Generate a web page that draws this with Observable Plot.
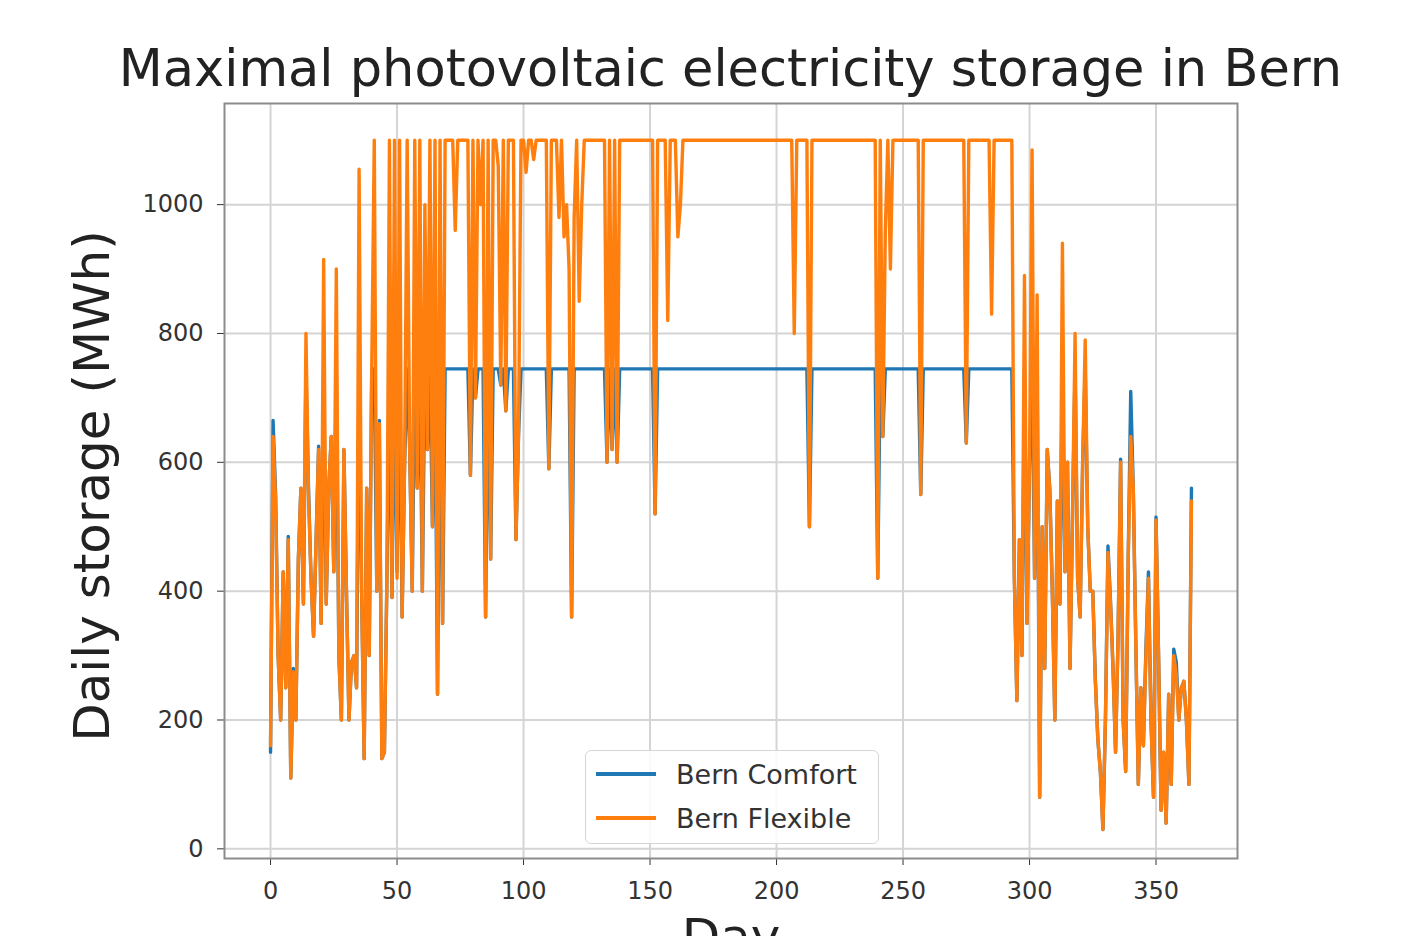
<!DOCTYPE html>
<html><head><meta charset="utf-8">
<script src="https://cdn.jsdelivr.net/npm/d3@7"></script>
<script src="https://cdn.jsdelivr.net/npm/@observablehq/plot@0.6"></script>
<style>
body{margin:0;background:#fff;font-family:"DejaVu Sans",sans-serif}
#wrap{position:relative;width:1406px;height:936px;overflow:hidden;background:#fff}
#title{position:absolute;left:0;width:1461px;top:44px;text-align:center;font-size:51px;line-height:50px;color:#222;white-space:nowrap}
#legend{position:absolute;left:585px;top:750px;width:294px;height:94px;border:1.5px solid #d6d6d6;border-radius:6px;background:rgba(255,255,255,0.85);box-sizing:border-box}
.row{position:absolute;left:0;height:34px;display:flex;align-items:center}
.sw{width:60px;height:3.5px;margin-left:10px;margin-right:20px}
.lab{font-size:27px;color:#333;white-space:nowrap}
#chart{position:absolute;left:0;top:0}
</style>
</head><body>
<div id="wrap">
  <div id="chart"></div>
  <div id="title">Maximal photovoltaic electricity storage in Bern</div>
  <div id="legend">
    <div class="row" style="top:6px"><div class="sw" style="background:#1f77b4"></div><div class="lab">Bern Comfort</div></div>
    <div class="row" style="top:50px"><div class="sw" style="background:#ff7f0e"></div><div class="lab">Bern Flexible</div></div>
  </div>
</div>
<script>
const xTicks = [0, 50, 100, 150, 200, 250, 300, 350];
const yTicks = [0, 200, 400, 600, 800, 1000];
const seriesNames = ["Bern Comfort", "Bern Flexible"];

const flexible = [
160,640,540,300,200,430,250,480,110,275,
200,450,560,380,800,550,420,330,480,620,
350,915,380,560,640,430,900,300,200,620,
400,200,290,300,250,1055,400,140,560,300,
745,1100,400,660,140,150,420,1100,390,1100,
420,1100,360,600,1100,620,400,1100,560,1100,
400,1000,620,1100,500,1100,240,1100,350,1100,
1100,1100,1100,960,1100,1100,1100,1100,1100,580,
1100,700,1100,1000,1100,360,1100,450,1100,1100,
1060,720,1100,680,1100,1100,1100,480,640,1100,
1100,1050,1100,1100,1070,1100,1100,1100,1100,1100,
590,1100,1100,1100,980,1100,950,1000,900,360,
980,1100,850,1000,1100,1100,1100,1100,1100,1100,
1100,1100,1100,600,1100,620,1100,600,1100,1100,
1100,1100,1100,1100,1100,1100,1100,1100,1100,1100,
1100,1100,520,1100,1100,1100,1100,820,1100,1100,
1100,950,1000,1100,1100,1100,1100,1100,1100,1100,
1100,1100,1100,1100,1100,1100,1100,1100,1100,1100,
1100,1100,1100,1100,1100,1100,1100,1100,1100,1100,
1100,1100,1100,1100,1100,1100,1100,1100,1100,1100,
1100,1100,1100,1100,1100,1100,1100,800,1100,1100,
1100,1100,1100,500,1100,1100,1100,1100,1100,1100,
1100,1100,1100,1100,1100,1100,1100,1100,1100,1100,
1100,1100,1100,1100,1100,1100,1100,1100,1100,1100,
420,1100,640,960,1100,900,1100,1100,1100,1100,
1100,1100,1100,1100,1100,1100,1100,550,1100,1100,
1100,1100,1100,1100,1100,1100,1100,1100,1100,1100,
1100,1100,1100,1100,1100,630,1100,1100,1100,1100,
1100,1100,1100,1100,1100,830,1100,1100,1100,1100,
1100,1100,1100,1100,420,230,480,300,890,350,
600,1085,420,860,80,500,280,620,555,400,
200,540,380,940,430,600,280,520,800,420,
360,600,790,500,400,400,260,170,120,30,
200,460,380,280,150,330,600,200,120,450,
640,560,320,100,250,160,300,420,200,80,
510,300,60,150,40,240,100,300,270,200,
250,260,200,100,540
];

const comfort = [
150,665,550,300,200,430,250,485,110,280,
200,450,560,380,745,560,420,330,480,625,
350,745,380,560,640,430,745,300,200,620,
400,200,290,300,250,745,400,140,560,300,
745,745,400,665,140,150,420,745,390,745,
430,745,360,600,745,620,400,745,560,745,
400,745,620,745,500,745,240,745,350,745,
745,745,745,745,745,745,745,745,745,580,
745,700,745,745,745,360,745,450,745,745,
745,720,745,680,745,745,745,480,640,745,
745,745,745,745,745,745,745,745,745,745,
590,745,745,745,745,745,745,745,745,360,
745,745,745,745,745,745,745,745,745,745,
745,745,745,600,745,620,745,600,745,745,
745,745,745,745,745,745,745,745,745,745,
745,745,520,745,745,745,745,745,745,745,
745,745,745,745,745,745,745,745,745,745,
745,745,745,745,745,745,745,745,745,745,
745,745,745,745,745,745,745,745,745,745,
745,745,745,745,745,745,745,745,745,745,
745,745,745,745,745,745,745,745,745,745,
745,745,745,500,745,745,745,745,745,745,
745,745,745,745,745,745,745,745,745,745,
745,745,745,745,745,745,745,745,745,745,
420,745,640,745,745,745,745,745,745,745,
745,745,745,745,745,745,745,550,745,745,
745,745,745,745,745,745,745,745,745,745,
745,745,745,745,745,630,745,745,745,745,
745,745,745,745,745,745,745,745,745,745,
745,745,745,745,420,230,480,300,745,350,
600,745,420,745,80,500,280,620,560,400,
200,540,380,745,430,600,280,520,745,420,
360,600,745,500,400,400,265,170,120,30,
200,470,385,280,150,330,605,200,120,450,
710,560,320,100,250,160,310,430,200,80,
515,300,60,150,40,240,100,310,290,200,
250,260,200,100,560
];

const data = flexible.map((v, i) => ({day: i, comfort: comfort[i], flexible: v}));

const plot = Plot.plot({
  width: 1406,
  height: 936,
  marginTop: 103,
  marginBottom: 78,
  marginLeft: 224,
  marginRight: 169,
  style: {fontFamily: "DejaVu Sans", fontSize: "24px", color: "#333", background: "transparent", overflow: "visible"},
  x: {domain: [-18.2, 382.2], ticks: xTicks, tickSize: 7, tickPadding: 16, label: null, tickFormat: d => String(d)},
  y: {domain: [-15, 1157], ticks: yTicks, tickSize: 7, tickPadding: 14, label: null, tickFormat: d => String(d)},
  marks: [
    Plot.ruleX(xTicks, {stroke: "#d4d4d4", strokeWidth: 2}),
    Plot.ruleY(yTicks, {stroke: "#d4d4d4", strokeWidth: 2}),
    Plot.line(data, {x: "day", y: "comfort", stroke: "#1f77b4", strokeWidth: 3.4, title: () => seriesNames[0]}),
    Plot.line(data, {x: "day", y: "flexible", stroke: "#ff7f0e", strokeWidth: 3.4, title: () => seriesNames[1]}),
    Plot.frame({stroke: "#8c8c8c", strokeWidth: 2}),
    Plot.text(["Daily storage (MWh)"], {frameAnchor: "left", textAnchor: "middle", dx: -132, dy: 5, rotate: -90, fontSize: 50, fill: "#222"}),
    Plot.text(["Day"], {frameAnchor: "bottom", dy: 60, lineAnchor: "top", fontSize: 50, fill: "#222"})
  ]
});
document.getElementById("chart").appendChild(plot);
</script>
</body></html>
